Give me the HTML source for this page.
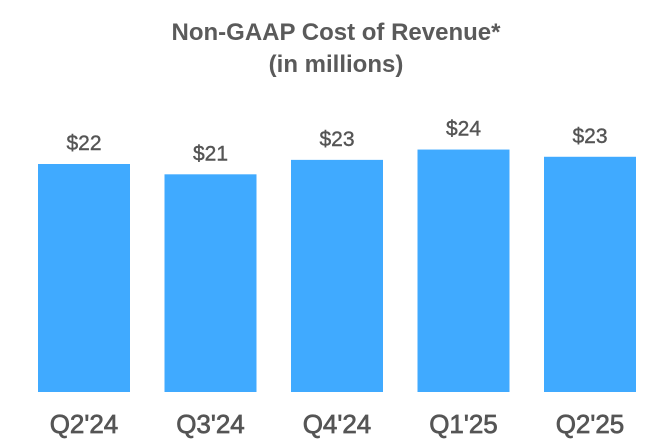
<!DOCTYPE html>
<html><head><meta charset="utf-8"><style>
body{margin:0;background:#fff;width:672px;height:440px;overflow:hidden;font-family:"Liberation Sans",sans-serif}
</style></head><body>
<svg width="672" height="440">
<text x="336" y="40" text-anchor="middle" font-size="24" font-weight="bold" fill="#5a5a5a">Non-GAAP Cost of Revenue*</text>
<text x="336" y="72" text-anchor="middle" font-size="24" font-weight="bold" fill="#5a5a5a">(in millions)</text>
<g id="bars"></g>
</svg>
<script>
const categories=["Q2'24","Q3'24","Q4'24","Q1'25","Q2'25"];
const values=[22.1,21.1,22.5,23.5,22.8];
const valueLabels=["$22","$21","$23","$24","$23"];
const baseY=392, scale=228/22.1, x0=38, step=126.5, bw=92;
const y=v=>baseY-v*scale;
const x=i=>x0+i*step;
const g=document.getElementById('bars');
const NS='http://www.w3.org/2000/svg';
categories.forEach((c,i)=>{
  const r=document.createElementNS(NS,'rect');
  r.setAttribute('x',x(i));r.setAttribute('y',y(values[i]));
  r.setAttribute('width',bw);r.setAttribute('height',baseY-y(values[i]));
  r.setAttribute('fill','#40aaff');
  
  
  g.appendChild(r);
  const t=document.createElementNS(NS,'text');
  t.setAttribute('x',x(i)+bw/2);t.setAttribute('y',y(values[i])-14);
  t.setAttribute('text-anchor','middle');t.setAttribute('font-size','21');t.setAttribute('fill','#555');
  t.setAttribute('stroke','#555');t.setAttribute('stroke-width','0.4');
  t.textContent=valueLabels[i];
  
  
  g.appendChild(t);
  const l=document.createElementNS(NS,'text');
  l.setAttribute('x',x(i)+bw/2);l.setAttribute('y',433);
  l.setAttribute('text-anchor','middle');l.setAttribute('font-size','26');l.setAttribute('fill','#555');
  l.setAttribute('stroke','#555');l.setAttribute('stroke-width','0.7');
  l.textContent=c;
  
  
  g.appendChild(l);
});
</script>
</body></html>
